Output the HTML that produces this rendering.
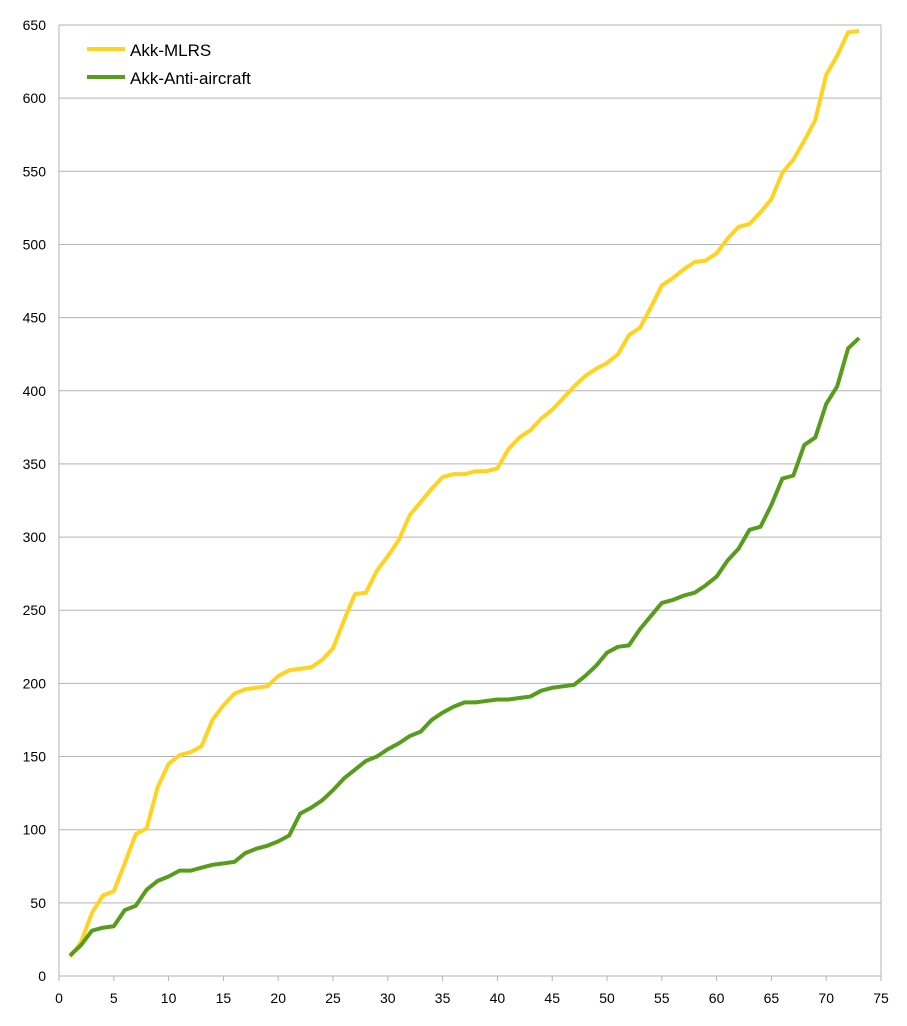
<!DOCTYPE html>
<html><head><meta charset="utf-8"><style>
html,body{margin:0;padding:0;background:#fff;}
svg{display:block;font-family:"Liberation Sans",sans-serif;}
</style></head><body>
<svg id="chart" width="907" height="1026" viewBox="0 0 907 1026" xmlns="http://www.w3.org/2000/svg"></svg>
<script>
const xTicks=[0,5,10,15,20,25,30,35,40,45,50,55,60,65,70,75];
const yTicks=[0,50,100,150,200,250,300,350,400,450,500,550,600,650];
const mlrs=[13,23,43,55,58,77,97,101,129,145,151,153,157,175,185,193,196,197,198,205,209,210,211,216,224,243,261,262,277,287,298,315,324,333,341,343,343,345,345,347,360,368,373,381,387,395,403,410,415,419,425,438,443,457,472,477,483,488,489,494,504,512,514,522,531,549,558,571,585,616,629,645,646];
const antiAir=[14,21,31,33,34,45,48,59,65,68,72,72,74,76,77,78,84,87,89,92,96,111,115,120,127,135,141,147,150,155,159,164,167,175,180,184,187,187,188,189,189,190,191,195,197,198,199,205,212,221,225,226,237,246,255,257,260,262,267,273,284,292,305,307,322,340,342,363,368,391,403,429,436];
const seriesNames=["Akk-MLRS","Akk-Anti-aircraft"];
const colors=["#ffd320","#579d1c"];
const X0=59,X1=881,Y0=976,Y1=25,XMAX=75,YMAX=650;
const sx=v=>X0+(X1-X0)*v/XMAX;
const sy=v=>Y0-(Y0-Y1)*v/YMAX;
const svg=document.getElementById('chart');
const NS="http://www.w3.org/2000/svg";
function mk(t,a){const e=document.createElementNS(NS,t);for(const k in a)e.setAttribute(k,a[k]);svg.appendChild(e);return e;}
for(const t of yTicks){
  const g=mk('line',{x1:X0,x2:X1,y1:sy(t),y2:sy(t),stroke:'#b3b3b3','stroke-width':1});
  
  
  const l=mk('text',{x:46,y:sy(t)+5,'text-anchor':'end','font-size':14,fill:'#000'});
  l.textContent=t;
  
  
}
for(const t of xTicks){
  const k=mk('line',{x1:sx(t),x2:sx(t),y1:Y0,y2:Y0+5,stroke:'#b3b3b3','stroke-width':1});
  
  
  const l=mk('text',{x:sx(t),y:1003,'text-anchor':'middle','font-size':14,fill:'#000'});
  l.textContent=t;
  
  
}
const ax=mk('line',{x1:X0,x2:X0,y1:Y1,y2:Y0,stroke:'#b3b3b3','stroke-width':1});


const rx=mk('line',{x1:X1,x2:X1,y1:Y1,y2:Y0,stroke:'#b3b3b3','stroke-width':1});


[mlrs,antiAir].forEach((d,i)=>{
  const p=mk('polyline',{points:d.map((v,j)=>sx(j+1)+','+sy(v)).join(' '),fill:'none',stroke:colors[i],'stroke-width':4,'stroke-linejoin':'round'});
  
  
  const ly=49+i*28;
  const s=mk('line',{x1:87,x2:125,y1:ly,y2:ly,stroke:colors[i],'stroke-width':4});
  
  
  const t=mk('text',{x:130,y:ly+7,'font-size':17,fill:'#000'});
  t.textContent=seriesNames[i];
  
  
});
</script>
</body></html>
